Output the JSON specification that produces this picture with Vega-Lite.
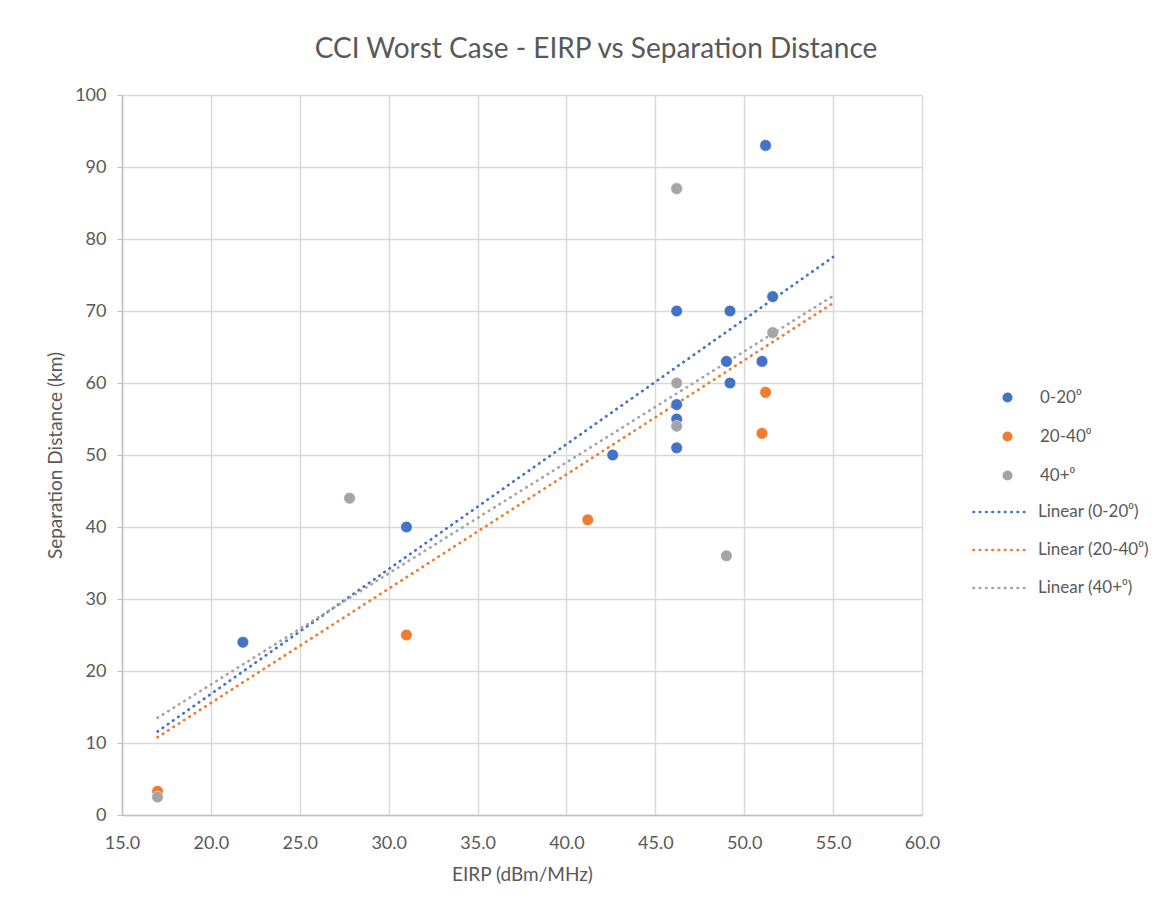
{
  "$schema": "https://vega.github.io/schema/vega-lite/v6.json",
  "autosize": "none",
  "width": 800,
  "height": 720,
  "padding": {"left": 122, "top": 95, "right": 251, "bottom": 92},
  "background": "white",
  "config": {
    "font": "Lato",
    "view": {"stroke": null},
    "axis": {
      "labelFont": "Lato", "titleFont": "Lato",
      "labelColor": "#595959", "titleColor": "#595959",
      "labelFontSize": 18, "titleFontSize": 19, "titleFontWeight": "normal",
      "gridColor": "#D9D9D9", "gridWidth": 1.5,
      "domainColor": "#BFBFBF", "domainWidth": 1.5,
      "tickColor": "#BFBFBF", "labelFlush": false
    },
    "legend": {
      "labelFont": "Lato", "labelColor": "#595959", "labelFontSize": 17
    }
  },
  "title": {
    "text": "CCI Worst Case - EIRP vs Separation Distance",
    "font": "Lato", "fontSize": 28, "fontWeight": "normal", "color": "#595959",
    "anchor": "middle", "dx": 74, "offset": 22
  },
  "datasets": {
    "pts": [
      {"series": "0-20⁰", "eirp": 21.8, "dist": 24},
      {"series": "0-20⁰", "eirp": 31.0, "dist": 40},
      {"series": "0-20⁰", "eirp": 42.6, "dist": 50},
      {"series": "0-20⁰", "eirp": 46.2, "dist": 51},
      {"series": "0-20⁰", "eirp": 46.2, "dist": 55},
      {"series": "0-20⁰", "eirp": 46.2, "dist": 57},
      {"series": "0-20⁰", "eirp": 46.2, "dist": 70},
      {"series": "0-20⁰", "eirp": 49.0, "dist": 63},
      {"series": "0-20⁰", "eirp": 49.2, "dist": 60},
      {"series": "0-20⁰", "eirp": 49.2, "dist": 70},
      {"series": "0-20⁰", "eirp": 51.0, "dist": 63},
      {"series": "0-20⁰", "eirp": 51.2, "dist": 93},
      {"series": "0-20⁰", "eirp": 51.6, "dist": 72},
      {"series": "20-40⁰", "eirp": 17.0, "dist": 3.3},
      {"series": "20-40⁰", "eirp": 31.0, "dist": 25},
      {"series": "20-40⁰", "eirp": 41.2, "dist": 41},
      {"series": "20-40⁰", "eirp": 46.2, "dist": 87},
      {"series": "20-40⁰", "eirp": 51.2, "dist": 58.7},
      {"series": "20-40⁰", "eirp": 51.0, "dist": 53},
      {"series": "40+⁰", "eirp": 17.0, "dist": 2.5},
      {"series": "40+⁰", "eirp": 27.8, "dist": 44},
      {"series": "40+⁰", "eirp": 46.2, "dist": 87},
      {"series": "40+⁰", "eirp": 46.2, "dist": 60},
      {"series": "40+⁰", "eirp": 46.2, "dist": 54},
      {"series": "40+⁰", "eirp": 49.0, "dist": 36},
      {"series": "40+⁰", "eirp": 51.6, "dist": 67}
    ],
    "trend": [
      {"trend": "Linear (0-20⁰)", "eirp": 17, "dist": 11.6},
      {"trend": "Linear (0-20⁰)", "eirp": 55, "dist": 77.5},
      {"trend": "Linear (20-40⁰)", "eirp": 17, "dist": 10.8},
      {"trend": "Linear (20-40⁰)", "eirp": 55, "dist": 71.1},
      {"trend": "Linear (40+⁰)", "eirp": 17, "dist": 13.5},
      {"trend": "Linear (40+⁰)", "eirp": 55, "dist": 72.1}
    ]
  },
  "layer": [
    {
      "data": {"name": "trend"},
      "mark": {"type": "line", "strokeDash": [0.5, 5.8], "strokeWidth": 2.7, "strokeCap": "round"},
      "encoding": {
        "x": {"field": "eirp", "type": "quantitative",
              "scale": {"domain": [15, 60], "nice": false, "zero": false},
              "axis": {"values": [15,20,25,30,35,40,45,50,55,60], "format": ".1f",
                       "title": "EIRP (dBm/MHz)", "ticks": false, "labelPadding": 19, "titlePadding": 13}},
        "y": {"field": "dist", "type": "quantitative",
              "scale": {"domain": [0, 100], "nice": false},
              "axis": {"values": [0,10,20,30,40,50,60,70,80,90,100],
                       "title": "Separation Distance (km)", "tickSize": 5, "labelPadding": 11, "titlePadding": 9}},
        "color": {"field": "trend", "type": "nominal",
                  "scale": {"domain": ["Linear (0-20⁰)", "Linear (20-40⁰)", "Linear (40+⁰)"],
                            "range": ["#4472C4", "#ED7D31", "#A5A5A5"]},
                  "legend": {"title": null, "orient": "none", "legendX": 850, "legendY": 388,
                             "symbolType": "stroke", "symbolSize": 3025, "symbolStrokeWidth": 2.7,
                             "symbolDash": [0.5, 5.8], "rowPadding": 1, "labelOffset": 8,
                             "encode": {"symbols": {"update": {"strokeCap": {"value": "round"}}}}}}
      }
    },
    {
      "data": {"name": "pts"},
      "mark": {"type": "point", "filled": true, "opacity": 1, "size": 135, "stroke": "white", "strokeWidth": 0.5},
      "encoding": {
        "x": {"field": "eirp", "type": "quantitative"},
        "y": {"field": "dist", "type": "quantitative"},
        "color": {"field": "series", "type": "nominal",
                  "scale": {"domain": ["0-20⁰", "20-40⁰", "40+⁰"],
                            "range": ["#4472C4", "#ED7D31", "#A5A5A5"]},
                  "legend": {"title": null, "orient": "none", "legendX": 877, "legendY": 294,
                             "symbolType": "circle", "symbolSize": 135, "rowPadding": 20, "labelOffset": 24}}
      }
    }
  ],
  "resolve": {"scale": {"color": "independent"}, "legend": {"color": "independent"}}
}
